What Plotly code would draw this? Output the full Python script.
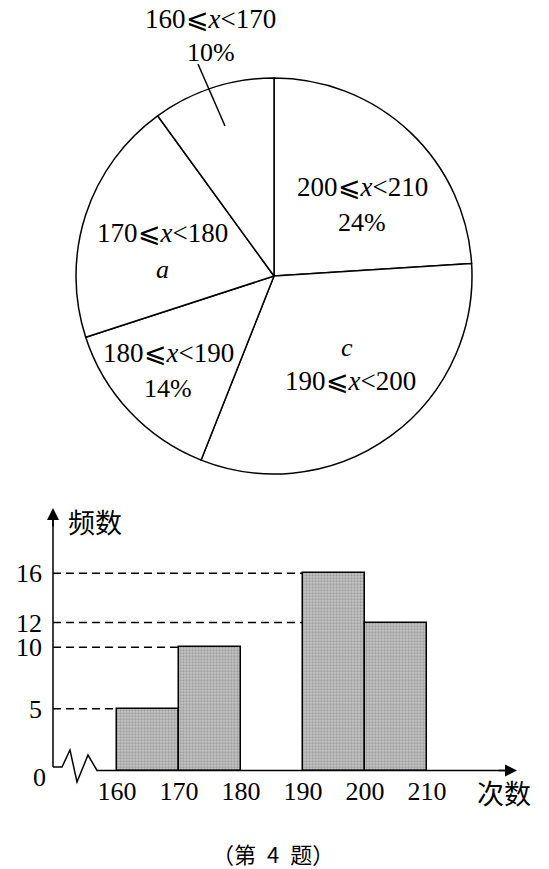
import plotly.graph_objects as go

W, H = 549, 869

# ---------------- data ----------------
pie_lo = [200, 190, 180, 170, 160]
pie_hi = [210, 200, 190, 180, 170]
pie_values = [12, 16, 7, 10, 5]          # frequencies (total 50)
pie_second = ["24%", "c", "14%", "a", "10%"]

bin_left = [160, 170, 190, 200]
bin_freq = [5, 10, 16, 12]
bin_width = 10
x_ticks = [160, 170, 180, 190, 200, 210]
y_ticks = [5, 10, 12, 16]

SERIF = "Liberation Serif"
CJK = "Noto Sans CJK SC"
FS = 26

# ---------------- geometry helpers (pixel -> paper / data) ----------------
def px(x):
    return x / W

def py(y):
    return 1 - y / H

AX_X0, AX_X1 = 53, 517          # x-axis pixel extent
PX_PER_UNIT_X = 6.2
X_MIN = 160 - (117 - AX_X0) / PX_PER_UNIT_X
X_MAX = X_MIN + (AX_X1 - AX_X0) / PX_PER_UNIT_X
Y_ZERO_PX, Y_TOP_PX = 770.5, 508
PX_PER_UNIT_Y = 12.33
Y_MAX = (Y_ZERO_PX - Y_TOP_PX) / PX_PER_UNIT_Y

def slabel(lo, hi):
    return f"{lo}⩽<i>x</i>&lt;{hi}"

fig = go.Figure()

# ---------------- pie ----------------
fig.add_trace(go.Pie(
    labels=[slabel(a, b) for a, b in zip(pie_lo, pie_hi)],
    values=pie_values,
    sort=False,
    direction="clockwise",
    rotation=0,
    textinfo="none",
    hoverinfo="skip",
    marker=dict(colors=["white"] * len(pie_values), line=dict(color="black", width=1.5)),
    domain=dict(x=[px(76), px(472)], y=[py(474), py(78)]),
    showlegend=False,
))

# pie text positions (pixels): first line, second line
pie_text_pos = [
    ((362, 187), (362, 222)),   # 200-210
    ((350, 381), (347, 348)),   # 190-200 (c above)
    ((168, 353), (168, 388)),   # 180-190
    ((162, 233), (162, 270)),   # 170-180
    ((210, 19), (211, 52)),     # 160-170 (outside)
]
annotations = []
for lo, hi, sec, (p1, p2) in zip(pie_lo, pie_hi, pie_second, pie_text_pos):
    sec_txt = f"<i>{sec}</i>" if sec in ("a", "c") else sec
    annotations.append(dict(x=px(p1[0]), y=py(p1[1]), xref="paper", yref="paper",
                            text=slabel(lo, hi), showarrow=False,
                            font=dict(family=SERIF, size=27, color="black"),
                            xanchor="center", yanchor="middle"))
    annotations.append(dict(x=px(p2[0]), y=py(p2[1]), xref="paper", yref="paper",
                            text=sec_txt, showarrow=False,
                            font=dict(family=SERIF, size=FS, color="black"),
                            xanchor="center", yanchor="middle"))

shapes = []
# leader line for the small slice label
shapes.append(dict(type="line", xref="paper", yref="paper",
                   x0=px(198), y0=py(64), x1=px(225), y1=py(126),
                   line=dict(color="black", width=1.5)))

# ---------------- histogram ----------------
fig.add_trace(go.Bar(
    x=[l + bin_width / 2 for l in bin_left],
    y=bin_freq,
    width=bin_width,
    marker=dict(color="#bdbdbd",
                line=dict(color="black", width=1.5),
                pattern=dict(shape=".", fgcolor="#7a7a7a", bgcolor="#c4c4c4", size=3, solidity=0.45)),
    hoverinfo="skip",
    showlegend=False,
))

# dashed guide lines from the y-axis to the first bar reaching that height
for v in y_ticks:
    end = min(l for l, f in zip(bin_left, bin_freq) if f >= v)
    fig.add_trace(go.Scatter(x=[X_MIN, end], y=[v, v], mode="lines",
                             line=dict(color="black", width=1.5, dash="8px,5px"),
                             hoverinfo="skip", showlegend=False))

# axes lines (with zigzag break), drawn in paper space
shapes.append(dict(type="line", xref="paper", yref="paper",
                   x0=px(AX_X0), x1=px(AX_X0), y0=py(767), y1=py(Y_TOP_PX + 6),
                   line=dict(color="black", width=1.5)))
zig = [(53, 767), (62, 767), (70, 750), (77, 782), (88, 755), (97, Y_ZERO_PX), (AX_X1 - 6, Y_ZERO_PX)]
path = "M " + " L ".join(f"{px(a)},{py(b)}" for a, b in zig)
shapes.append(dict(type="path", xref="paper", yref="paper", path=path,
                   line=dict(color="black", width=1.5)))

# arrowheads
annotations.append(dict(x=X_MAX, y=0, xref="x", yref="y", ax=-20, ay=0, text="",
                        showarrow=True, arrowhead=2, arrowsize=1.6, arrowwidth=1.5, arrowcolor="black"))
annotations.append(dict(x=X_MIN, y=Y_MAX, xref="x", yref="y", ax=0, ay=20, text="",
                        showarrow=True, arrowhead=2, arrowsize=1.6, arrowwidth=1.5, arrowcolor="black"))

# axis titles, origin label, caption
annotations.append(dict(x=px(95), y=py(521), xref="paper", yref="paper", text="频数", showarrow=False,
                        font=dict(family=CJK, size=27, color="black"), xanchor="center", yanchor="middle"))
annotations.append(dict(x=px(504), y=py(792), xref="paper", yref="paper", text="次数", showarrow=False,
                        font=dict(family=CJK, size=27, color="black"), xanchor="center", yanchor="middle"))
annotations.append(dict(x=px(39), y=py(777), xref="paper", yref="paper", text="0", showarrow=False,
                        font=dict(family=SERIF, size=FS, color="black"), xanchor="center", yanchor="middle"))
annotations.append(dict(x=px(273), y=py(853), xref="paper", yref="paper",
                        text="（第\u20024\u2002题）", showarrow=False,
                        font=dict(family=CJK, size=22, color="black"), xanchor="center", yanchor="middle"))

fig.update_layout(
    width=W, height=H,
    margin=dict(l=0, r=0, t=0, b=0),
    paper_bgcolor="white", plot_bgcolor="white",
    showlegend=False,
    bargap=0,
    xaxis=dict(domain=[px(AX_X0), px(AX_X1)], range=[X_MIN, X_MAX],
               showgrid=False, zeroline=False, showline=False,
               tickmode="array", tickvals=x_ticks, ticks="", ticklabelstandoff=2,
               tickfont=dict(family=SERIF, size=FS, color="black"), fixedrange=True),
    yaxis=dict(domain=[py(Y_ZERO_PX), py(Y_TOP_PX)], range=[0, Y_MAX],
               showgrid=False, zeroline=False, showline=False,
               tickmode="array", tickvals=y_ticks, ticks="", ticklabelstandoff=10,
               tickfont=dict(family=SERIF, size=FS, color="black"), fixedrange=True),
    shapes=shapes,
    annotations=annotations,
)

fig.write_html("out.html", config={"displayModeBar": False},
               post_script="document.body.style.margin='0';")
